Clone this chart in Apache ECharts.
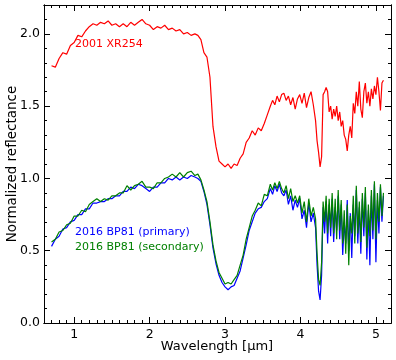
<!DOCTYPE html>
<html>
<head>
<meta charset="utf-8">
<script src="https://cdn.jsdelivr.net/npm/echarts@6/dist/echarts.min.js"></script>
<style>
html, body { margin: 0; padding: 0; background: #fff; }
#myChart { width: 396px; height: 360px; }
</style>
</head>
<body>
<div id="myChart"></div>
<script>
// wavelength grid (um), coarser in the smooth part, finer where the spectra get noisy
const wl = [
  0.70, 0.75, 0.80, 0.85, 0.90, 0.95, 1.00, 1.05, 1.10, 1.15,
  1.20, 1.25, 1.30, 1.35, 1.40, 1.45, 1.50, 1.55, 1.60, 1.65,
  1.70, 1.75, 1.80, 1.85, 1.90, 1.95, 2.00, 2.05, 2.10, 2.15,
  2.20, 2.25, 2.30, 2.35, 2.40, 2.45, 2.50, 2.55,
  2.60, 2.64, 2.68, 2.72, 2.76, 2.80, 2.84, 2.88, 2.92, 2.96,
  3.00, 3.04, 3.08, 3.12, 3.16, 3.20, 3.24, 3.28, 3.32, 3.36,
  3.40, 3.44, 3.48, 3.52, 3.56,
  3.60, 3.63, 3.66, 3.69, 3.72, 3.75, 3.78, 3.81, 3.84, 3.87,
  3.90, 3.93, 3.96, 3.99, 4.02, 4.05, 4.08, 4.11, 4.14, 4.17,
  4.20, 4.22, 4.24, 4.26, 4.28, 4.30, 4.32, 4.34, 4.36, 4.38,
  4.40, 4.42, 4.44, 4.46, 4.48, 4.50, 4.52, 4.54, 4.56, 4.58,
  4.60, 4.62, 4.64, 4.66, 4.68, 4.70, 4.72, 4.74, 4.76, 4.78,
  4.80, 4.82, 4.84, 4.86, 4.88, 4.90, 4.92, 4.94, 4.96, 4.98,
  5.00, 5.02, 5.04, 5.06, 5.08, 5.10
]

// 2001 XR254
const xr254 = [
  1.78, 1.77, 1.83, 1.87, 1.86, 1.92, 1.94, 1.99, 1.98, 2.02,
  2.05, 2.07, 2.06, 2.08, 2.07, 2.09, 2.06, 2.07, 2.05, 2.07,
  2.05, 2.08, 2.06, 2.08, 2.10, 2.07, 2.06, 2.03, 2.05, 2.04,
  2.06, 2.03, 2.04, 2.02, 2.03, 2.00, 2.01, 1.99,
  2.00, 1.99, 1.96, 1.87, 1.84, 1.70, 1.36, 1.22, 1.12, 1.10,
  1.08, 1.10, 1.07, 1.10, 1.09, 1.14, 1.17, 1.25, 1.28, 1.33,
  1.30, 1.35, 1.33, 1.38, 1.44,
  1.50, 1.54, 1.51, 1.57, 1.53, 1.58, 1.59, 1.54, 1.57, 1.51,
  1.56, 1.48, 1.55, 1.58, 1.52, 1.59, 1.49, 1.56, 1.60, 1.51,
  1.40, 1.26, 1.18, 1.08, 1.15, 1.58, 1.60, 1.63, 1.60, 1.46,
  1.50, 1.41, 1.48, 1.43, 1.50, 1.40, 1.46, 1.36, 1.40, 1.30,
  1.27, 1.19, 1.30, 1.36, 1.28, 1.52, 1.45, 1.60, 1.50, 1.67,
  1.48, 1.42, 1.60, 1.66, 1.52, 1.60, 1.50, 1.62, 1.55, 1.64,
  1.58, 1.70, 1.60, 1.47, 1.66, 1.68
]

// 2016 BP81 primary
const bp81Primary = [
  0.53, 0.58, 0.60, 0.65, 0.66, 0.70, 0.71, 0.75, 0.75, 0.79,
  0.79, 0.83, 0.83, 0.84, 0.84, 0.86, 0.86, 0.88, 0.88, 0.91,
  0.91, 0.94, 0.93, 0.96, 0.95, 0.93, 0.91, 0.94, 0.94, 0.97,
  0.97, 1.00, 0.99, 1.01, 0.99, 1.01, 1.00, 1.02,
  1.01, 1.00, 0.98, 0.91, 0.82, 0.68, 0.52, 0.41, 0.33, 0.28,
  0.25, 0.23, 0.25, 0.26, 0.31, 0.36, 0.45, 0.54, 0.64, 0.70,
  0.76, 0.79, 0.80, 0.84, 0.86,
  0.93, 0.89, 0.95, 0.91, 0.96, 0.90, 0.88, 0.92, 0.82, 0.88,
  0.78, 0.85, 0.80, 0.86, 0.72, 0.78, 0.66, 0.83, 0.70, 0.76,
  0.66, 0.40, 0.22, 0.16, 0.33, 0.80, 0.62, 0.84, 0.55, 0.82,
  0.60, 0.86, 0.56, 0.80, 0.64, 0.88, 0.58, 0.82, 0.47, 0.70,
  0.55, 0.85, 0.50, 0.76, 0.45, 0.82, 0.60, 0.92, 0.55, 0.80,
  0.48, 0.86, 0.60, 0.90, 0.44, 0.78, 0.40, 0.88, 0.58, 0.96,
  0.42, 0.85, 0.62, 0.94, 0.70, 0.88
]

// 2016 BP81 secondary
const bp81Secondary = [
  0.56, 0.58, 0.63, 0.64, 0.68, 0.69, 0.74, 0.74, 0.78, 0.77,
  0.82, 0.84, 0.86, 0.84, 0.86, 0.85, 0.88, 0.88, 0.90, 0.90,
  0.95, 0.92, 0.95, 0.96, 0.98, 0.94, 0.94, 0.93, 0.97, 0.97,
  1.00, 1.01, 1.03, 1.01, 1.04, 1.01, 1.04, 1.05,
  1.02, 1.03, 0.99, 0.92, 0.84, 0.70, 0.54, 0.43, 0.35, 0.31,
  0.27, 0.28, 0.27, 0.30, 0.33, 0.40, 0.47, 0.58, 0.66, 0.74,
  0.78, 0.83, 0.81, 0.89, 0.88,
  0.96, 0.92, 0.97, 0.93, 0.98, 0.93, 0.90, 0.95, 0.86, 0.93,
  0.84, 0.88, 0.83, 0.88, 0.76, 0.84, 0.70, 0.86, 0.74, 0.80,
  0.72, 0.48, 0.30, 0.26, 0.42, 0.84, 0.70, 0.88, 0.62, 0.86,
  0.66, 0.90, 0.62, 0.86, 0.58, 0.92, 0.64, 0.85, 0.55, 0.78,
  0.48, 0.82, 0.40, 0.74, 0.62, 0.88, 0.55, 0.95, 0.62, 0.84,
  0.56, 0.90, 0.66, 0.94, 0.52, 0.82, 0.60, 0.92, 0.64, 0.98,
  0.58, 0.90, 0.70, 0.96, 0.74, 0.90
]

// major tick labels
const xTicks = [1, 2, 3, 4, 5]
const yTicks = [0, 0.5, 1.0, 1.5, 2.0]

const font = 'DejaVu Sans'

function pairs (vals) {
  return wl.map((x, i) => [x, vals[i]])
}

// one axis carries the 0.1 minor ticks, a second one on top of it the major ticks + labels
function makeAxis (pos, min, max, majors, withLabels) {
  const base = {
    type: 'value',
    position: pos,
    min: min,
    max: max,
    splitLine: { show: false },
    axisLine: { show: true, onZero: false, lineStyle: { color: '#000', width: 1 } }
  }
  if (!majors) {
    base.interval = 0.1
    base.axisTick = { show: true, inside: true, length: 3, lineStyle: { color: '#000', width: 1 } }
    base.axisLabel = { show: false }
  } else {
    base.axisTick = { show: true, inside: true, length: 6, customValues: majors, lineStyle: { color: '#000', width: 1 } }
    base.axisLabel = {
      show: withLabels,
      customValues: majors,
      color: '#000',
      fontFamily: font,
      fontSize: 12.5,
      margin: pos === 'bottom' ? 5 : 4,
      formatter: pos === 'left' ? (v => v.toFixed(1)) : (v => String(v))
    }
  }
  return base
}

function lineSeries (name, vals, color) {
  return {
    name: name,
    type: 'line',
    xAxisIndex: 0,
    yAxisIndex: 0,
    data: pairs(vals),
    showSymbol: false,
    symbol: 'none',
    lineStyle: { color: color, width: 1.2 },
    itemStyle: { color: color },
    silent: true
  }
}

function label (text, x, y, color) {
  return {
    type: 'text',
    x: x,
    y: y,
    style: {
      text: text,
      fill: color,
      font: '11px "' + font + '"',
      align: 'left',
      verticalAlign: 'middle',
      textAlign: 'left',
      textVerticalAlign: 'middle'
    }
  }
}

const myChart = echarts.init(document.getElementById('myChart'), null, { renderer: 'canvas' })
myChart.setOption({
  animation: false,
  backgroundColor: '#fff',
  grid: { left: 44, right: 5, top: 5, bottom: 37, outerBoundsMode: 'none' },
  xAxis: [
    makeAxis('bottom', 0.6, 5.2, null),
    makeAxis('bottom', 0.6, 5.2, xTicks, true),
    makeAxis('top', 0.6, 5.2, null),
    makeAxis('top', 0.6, 5.2, xTicks, false)
  ],
  yAxis: [
    makeAxis('left', 0, 2.2, null),
    makeAxis('left', 0, 2.2, yTicks, true),
    makeAxis('right', 0, 2.2, null),
    makeAxis('right', 0, 2.2, yTicks, false)
  ],
  series: [
    lineSeries('2001 XR254', xr254, '#ff0000'),
    lineSeries('2016 BP81 (primary)', bp81Primary, '#0000ff'),
    lineSeries('2016 BP81 (secondary)', bp81Secondary, '#008000')
  ],
  graphic: [
    label('2001 XR254', 75, 44, '#ff0000'),
    label('2016 BP81 (primary)', 75, 232, '#0000ff'),
    label('2016 BP81 (secondary)', 75, 247, '#008000'),
    {
      type: 'text',
      x: 217,
      y: 347,
      style: {
        text: 'Wavelength [μm]',
        fill: '#000',
        font: '13px "' + font + '"',
        align: 'center',
        verticalAlign: 'middle',
        textAlign: 'center',
        textVerticalAlign: 'middle'
      }
    },
    {
      type: 'text',
      x: 12,
      y: 164,
      rotation: Math.PI / 2,
      style: {
        text: 'Normalized reflectance',
        fill: '#000',
        font: '13.5px "' + font + '"',
        align: 'center',
        verticalAlign: 'middle',
        textAlign: 'center',
        textVerticalAlign: 'middle'
      }
    }
  ]
})
</script>
</body>
</html>
